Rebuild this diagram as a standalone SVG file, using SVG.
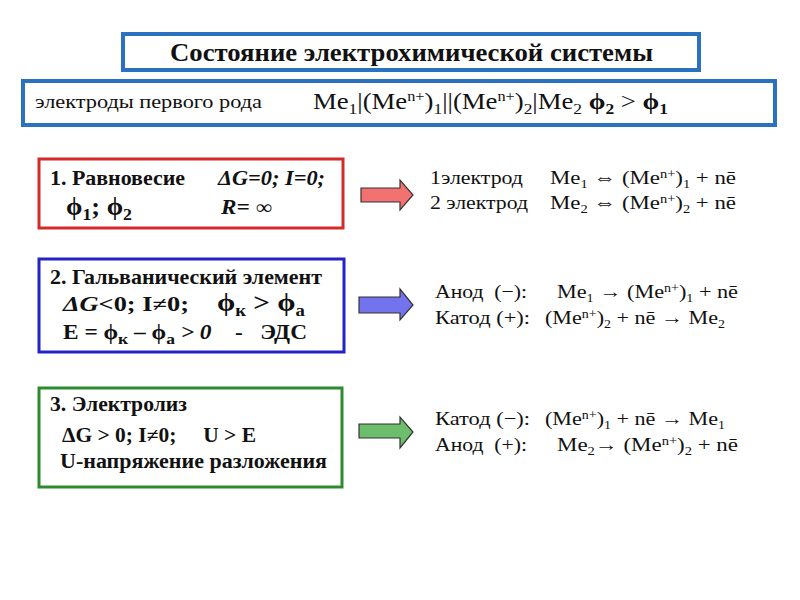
<svg xmlns="http://www.w3.org/2000/svg" width="800" height="600" viewBox="0 0 800 600" font-family="'Liberation Serif', 'DejaVu Serif', serif">
<style>
text{fill:#111;white-space:pre}
.b{font-weight:bold}
.bi{font-weight:bold;font-style:italic}
.r{font-size:19px}
.hdr{fill:#fff;stroke:#2a72bf;stroke-width:4}
.box{fill:#fff;stroke-width:3}
.arr{stroke:#333;stroke-width:1.2}
</style>
<rect width="800" height="600" fill="#fff"/>
<g id="title">
<rect class="hdr" x="123" y="34" width="576" height="36"/>
<text x="170" y="61" class="b" font-size="25" textLength="483" lengthAdjust="spacingAndGlyphs">Состояние электрохимической системы</text>
</g>
<g id="subtitle">
<rect class="hdr" x="23" y="81" width="752" height="44" stroke-width="3"/>
<text x="35" y="108" font-size="19" textLength="227" lengthAdjust="spacingAndGlyphs">электроды первого рода</text>
<text x="313" y="109" font-size="23" textLength="355" lengthAdjust="spacingAndGlyphs">Me<tspan font-size="15" dy="5">1</tspan><tspan dy="-5">|(Me</tspan><tspan font-size="14" dy="-8">n+</tspan><tspan dy="8">)</tspan><tspan font-size="15" dy="5">1</tspan><tspan dy="-5">||(Me</tspan><tspan font-size="14" dy="-8">n+</tspan><tspan dy="8">)</tspan><tspan font-size="15" dy="5">2</tspan><tspan dy="-5">|Me</tspan><tspan font-size="15" dy="5">2</tspan><tspan dy="-5"> </tspan><tspan class="b">ϕ</tspan><tspan class="b" font-size="15" dy="5">2</tspan><tspan dy="-5"> &gt; </tspan><tspan class="b">ϕ</tspan><tspan class="b" font-size="15" dy="5">1</tspan></text>
</g>
<g id="equilibrium">
<rect class="box" x="39" y="159" width="304" height="69" stroke="#d42a2a"/>
<text x="50" y="185" class="b" font-size="20" textLength="135" lengthAdjust="spacingAndGlyphs">1. Равновесие</text>
<text x="218" y="185" class="bi" font-size="20" textLength="107" lengthAdjust="spacingAndGlyphs">ΔG=0; I=0;</text>
<text x="66" y="215" class="b" font-size="25" textLength="66" lengthAdjust="spacingAndGlyphs">ϕ<tspan font-size="17" dy="5">1</tspan><tspan dy="-5">; ϕ</tspan><tspan font-size="17" dy="5">2</tspan></text>
<text x="221" y="214" class="bi" font-size="20" textLength="51" lengthAdjust="spacingAndGlyphs">R= ∞</text>
</g>
<g id="galvanic">
<rect class="box" x="39" y="259" width="305" height="93" stroke="#2323c8"/>
<text x="50" y="284" class="b" font-size="21" textLength="272" lengthAdjust="spacingAndGlyphs">2. Гальванический элемент</text>
<text x="63" y="311" class="b" font-size="20" textLength="126" lengthAdjust="spacingAndGlyphs"><tspan font-style="italic">ΔG</tspan>&lt;0; I≠0;</text>
<text x="217" y="311" class="b" font-size="25" textLength="88" lengthAdjust="spacingAndGlyphs">ϕ<tspan font-size="16" dy="5">к</tspan><tspan dy="-5"> &gt; ϕ</tspan><tspan font-size="16" dy="5">а</tspan></text>
<text x="63" y="339" class="b" font-size="20" textLength="244" lengthAdjust="spacingAndGlyphs">E = ϕ<tspan font-size="15" dy="5">к</tspan><tspan dy="-5"> – ϕ</tspan><tspan font-size="15" dy="5">а</tspan><tspan dy="-5" font-style="italic"> &gt; 0</tspan><tspan>    -   ЭДС</tspan></text>
</g>
<g id="electrolysis">
<rect class="box" x="39" y="388" width="303" height="99" stroke="#2e8a2e"/>
<text x="50" y="411" class="b" font-size="20" textLength="137" lengthAdjust="spacingAndGlyphs">3. Электролиз</text>
<text x="62" y="442" class="b" font-size="20" textLength="194" lengthAdjust="spacingAndGlyphs">ΔG &gt; 0; I≠0;     U &gt; E</text>
<text x="60" y="468" class="b" font-size="20" textLength="267" lengthAdjust="spacingAndGlyphs">U-напряжение разложения</text>
</g>
<g id="connectors">
<polygon class="arr" fill="#f27272" points="361,188 400,188 400,180 413,195 400,210 400,202 361,202"/>
<polygon class="arr" fill="#7373ee" points="359,297 400,297 400,289 413,305 400,320 400,313 359,313"/>
<polygon class="arr" fill="#6cbd6c" points="359,424 400,424 400,417 413,432 400,448 400,438 359,438"/>
</g>
<g id="eq-reactions">
<text x="430" y="184" class="r" textLength="93" lengthAdjust="spacingAndGlyphs">1электрод</text>
<text x="550" y="184" class="r" textLength="186" lengthAdjust="spacingAndGlyphs">Me<tspan font-size="12" dy="4">1</tspan><tspan dy="-4"> ⇔ (Me</tspan><tspan font-size="12" dy="-6">n+</tspan><tspan dy="6">)</tspan><tspan font-size="12" dy="4">1</tspan><tspan dy="-4"> + nē</tspan></text>
<text x="430" y="209" class="r" textLength="98" lengthAdjust="spacingAndGlyphs">2 электрод</text>
<text x="550" y="209" class="r" textLength="186" lengthAdjust="spacingAndGlyphs">Me<tspan font-size="12" dy="4">2</tspan><tspan dy="-4"> ⇔ (Me</tspan><tspan font-size="12" dy="-6">n+</tspan><tspan dy="6">)</tspan><tspan font-size="12" dy="4">2</tspan><tspan dy="-4"> + nē</tspan></text>
</g>
<g id="galv-reactions">
<text x="435" y="298" class="r" textLength="92" lengthAdjust="spacingAndGlyphs">Анод  (−):</text>
<text x="557" y="298" class="r" textLength="181" lengthAdjust="spacingAndGlyphs">Me<tspan font-size="12" dy="4">1</tspan><tspan dy="-4"> → (Me</tspan><tspan font-size="12" dy="-6">n+</tspan><tspan dy="6">)</tspan><tspan font-size="12" dy="4">1</tspan><tspan dy="-4"> + nē</tspan></text>
<text x="435" y="324" class="r" textLength="95" lengthAdjust="spacingAndGlyphs">Катод (+):</text>
<text x="545" y="324" class="r" textLength="180" lengthAdjust="spacingAndGlyphs">(Me<tspan font-size="12" dy="-6">n+</tspan><tspan dy="6">)</tspan><tspan font-size="12" dy="4">2</tspan><tspan dy="-4"> + nē → Me</tspan><tspan font-size="12" dy="4">2</tspan></text>
</g>
<g id="elec-reactions">
<text x="435" y="425" class="r" textLength="95" lengthAdjust="spacingAndGlyphs">Катод (−):</text>
<text x="545" y="425" class="r" textLength="180" lengthAdjust="spacingAndGlyphs">(Me<tspan font-size="12" dy="-6">n+</tspan><tspan dy="6">)</tspan><tspan font-size="12" dy="4">1</tspan><tspan dy="-4"> + nē → Me</tspan><tspan font-size="12" dy="4">1</tspan></text>
<text x="435" y="451" class="r" textLength="92" lengthAdjust="spacingAndGlyphs">Анод  (+):</text>
<text x="557" y="451" class="r" textLength="181" lengthAdjust="spacingAndGlyphs">Me<tspan font-size="12" dy="4">2</tspan><tspan dy="-4">→ (Me</tspan><tspan font-size="12" dy="-6">n+</tspan><tspan dy="6">)</tspan><tspan font-size="12" dy="4">2</tspan><tspan dy="-4"> + nē</tspan></text>
</g>
</svg>
